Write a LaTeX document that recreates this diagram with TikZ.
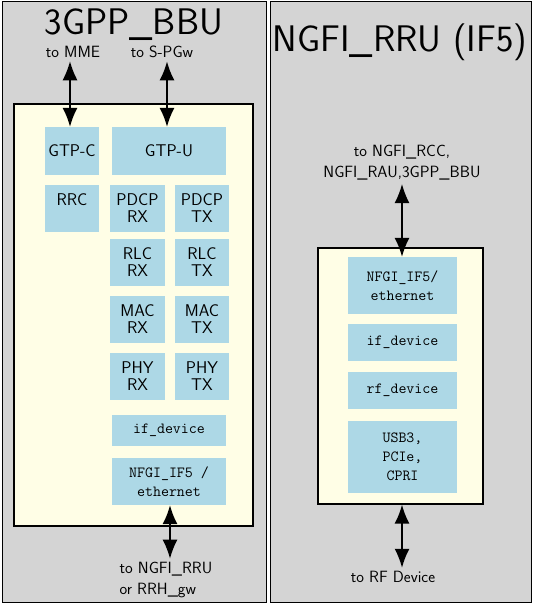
\documentclass[tikz,border=0pt]{standalone}
\usetikzlibrary{arrows.meta}

\definecolor{lightblue}{HTML}{ADD8E6}
\tikzset{
  panel/.style={draw=black, line width=1pt, fill=black!17},
  hostbox/.style={draw=black, line width=1.4pt, fill=yellow!10},
  layer/.style={fill=lightblue, align=center, inner sep=0pt,
    font=\sffamily\fontsize{17}{17}\selectfont},
  ttlayer/.style={layer, font=\ttfamily\fontsize{15.5}{19}\selectfont},
  link/.style={line width=1.5pt, {Latex[length=19pt,width=15pt]}-{Latex[length=19pt,width=15pt]}},
  extlabel/.style={font=\sffamily\fontsize{16.3}{21}\selectfont},
}

\begin{document}
\begin{tikzpicture}[x=1pt, y=-1pt]
    \useasboundingbox (0,0) rectangle (535,604);

    % Panels
    \draw[panel] (2,2) rectangle (266,602);
    \draw[panel] (270,2) rectangle (531,602);
    \node at (134,25) (bbutitle) {\sffamily\fontsize{37}{40}\selectfont 3GPP\_BBU};
    \node at (400,42) (rrutitle) {\sffamily\fontsize{37}{40}\selectfont NGFI\_RRU (IF5)};

    % 3GPP_BBU
    \node at (133.5,315) (bbuin) [hostbox, minimum width=239pt, minimum height=422pt] {};
    \node at (72,151) (gtpc) [layer, minimum width=54pt, minimum height=48pt] {GTP-C};
    \node at (169,151) (gtpu) [layer, minimum width=114pt, minimum height=48pt] {GTP-U};
    \node at (72,208.5) (rrc) [layer, minimum width=54pt, minimum height=47pt] {RRC\\\mbox{}};
    \node at (137.5,208.5) (pdcprx) [layer, minimum width=55pt, minimum height=47pt] {PDCP\\RX};
    \node at (202,208.5) (pdcptx) [layer, minimum width=54pt, minimum height=47pt] {PDCP\\TX};
    \node at (137.5,262.5) (rlcrx) [layer, minimum width=55pt, minimum height=47pt] {RLC\\RX};
    \node at (202,262.5) (rlctx) [layer, minimum width=54pt, minimum height=47pt] {RLC\\TX};
    \node at (137.5,319) (macrx) [layer, minimum width=55pt, minimum height=47pt] {MAC\\RX};
    \node at (202,319) (mactx) [layer, minimum width=54pt, minimum height=47pt] {MAC\\TX};
    \node at (137.5,376.5) (phyrx) [layer, minimum width=55pt, minimum height=47pt] {PHY\\RX};
    \node at (202,376.5) (phytx) [layer, minimum width=54pt, minimum height=47pt] {PHY\\TX};
    \node at (169,430.5) (ifdev) [ttlayer, minimum width=114pt, minimum height=31pt] {if\_device};
    \node at (169,481.5) (nfgi) [ttlayer, minimum width=114pt, minimum height=47pt] {NFGI\_IF5 /\\ethernet};

    \node at (73,52) (mme) [extlabel] {to MME};
    \node at (162,52) (spgw) [extlabel] {to S-PGw};
    \node at (166,580) (torru) [extlabel, align=left] {to NGFI\_RRU\\or RRH\_gw};

    % NGFI_RRU (IF5)
    \node at (400.5,376) (rruin) [hostbox, minimum width=165pt, minimum height=256pt] {};
    \node at (402.5,285.5) (nfgirru) [ttlayer, minimum width=109pt, minimum height=57pt] {NFGI\_IF5/\\ethernet};
    \node at (402.5,342.5) (ifdevrru) [ttlayer, minimum width=109pt, minimum height=37pt] {if\_device};
    \node at (402.5,390.5) (rfdev) [ttlayer, minimum width=109pt, minimum height=37pt] {rf\_device};
    \node at (402.5,457) (usb) [ttlayer, minimum width=109pt, minimum height=72pt] {USB3,\\PCIe,\\CPRI};

    \node at (402,163) (torcc) [extlabel, align=center] {to NGFI\_RCC,\\NGFI\_RAU,3GPP\_BBU};
    \node at (393,577) (torf) [extlabel] {to RF Device};

    % Arrows
    \draw[link] (mme.south -| 70,0) -- (gtpc.north -| 70,0);
    \draw[link] (spgw.south -| 167,0) -- (gtpu.north -| 167,0);
    \draw[link] (nfgi.south -| 170,0) -- (torru.north -| 170,0);
    \draw[link] (torcc.south -| 402,0) -- (nfgirru.north -| 402,0);
    \draw[link] (rruin.south -| 402,0) -- (torf.north -| 402,0);
\end{tikzpicture}
\end{document}
